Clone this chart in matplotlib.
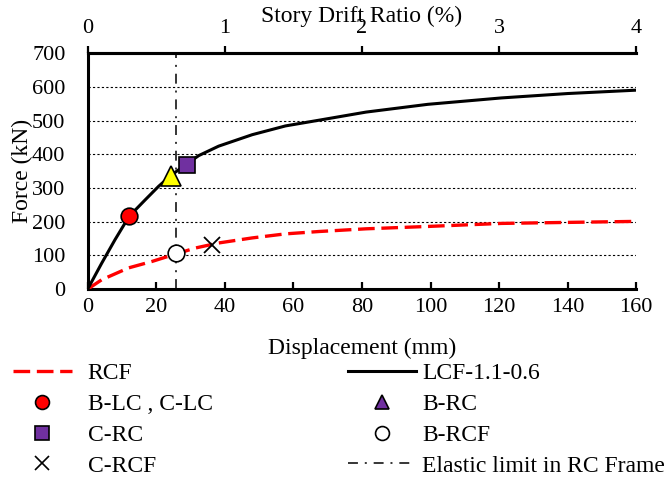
import numpy as np
import matplotlib.pyplot as plt
from matplotlib.lines import Line2D

plt.rcParams['font.family'] = ['Liberation Serif', 'DejaVu Serif']
plt.rcParams['font.size'] = 17

# ---- data ----
lcf_x = [0, 4.1, 8.0, 12.1, 16.8, 20.7, 24.3, 28.0, 32.4, 38.2, 48.0, 57.7,
         67.5, 81.2, 99.2, 120.7, 140, 160]
lcf_y = [0, 77, 147, 216, 265, 305, 337, 365, 396, 424, 458, 484,
         501, 525, 548, 567, 580, 590]

rcf_x = [0, 4.1, 11.9, 18.7, 25.9, 31.4, 38.2, 48.0, 57.7, 67.5, 81.2, 99.2,
         120.7, 140, 160]
rcf_y = [0, 28, 63, 82, 105, 122, 137, 152, 164, 171, 179, 186,
         195, 198, 201]

pt_blc = (12.1, 216)
pt_brc = (24.3, 337)
pt_crc = (29.1, 369)
pt_brcf = (25.9, 107)
pt_crcf = (36.3, 132)
elastic_x = 25.9

drift_ticks = [0, 1, 2, 3, 4]

red_dash = (5, 2)
dash_dot = (6.5, 4.5, 1.3, 4.5)
purple = '#7030a0'

fig = plt.figure(figsize=(6.69, 4.78), dpi=100)
ax = fig.add_axes([0.131, 0.395, 0.820, 0.494])

ax.plot(rcf_x, rcf_y, color='red', lw=2.4, dashes=red_dash, zorder=3)
ax.plot(lcf_x, lcf_y, color='black', lw=2.2, zorder=3)
ax.axvline(elastic_x, color='black', lw=1.1, dashes=dash_dot, zorder=2)

ax.plot(*pt_blc, marker='o', ms=12, mfc='red', mec='black', mew=1.2, zorder=5)
ax.plot(*pt_brc, marker='^', ms=14, mfc='yellow', mec='black', mew=1.2, zorder=5)
ax.plot(*pt_crc, marker='s', ms=12, mfc=purple, mec='black', mew=1.2, zorder=5)
ax.plot(*pt_brcf, marker='o', ms=12, mfc='white', mec='black', mew=1.2, zorder=5)
ax.plot(*pt_crcf, marker='x', ms=12, color='black', mew=1.3, zorder=5)

ax.set_xlim(0, 160)
ax.set_ylim(0, 700)
ax.set_xticks(np.arange(0, 161, 20))
ax.set_yticks(np.arange(0, 701, 100))
ax.yaxis.grid(True, color='black', ls=(0, (2, 2)), lw=0.8)
ax.set_axisbelow(True)
ax.tick_params(axis='x', direction='in', length=5, width=1.6, pad=6, labelsize=16)
ax.tick_params(axis='y', length=0, pad=16, labelsize=16)
ax.spines['right'].set_visible(False)
for s in ['left', 'bottom', 'top']:
    ax.spines[s].set_linewidth(2.2)
ax.set_xlabel('Displacement (mm)')
ax.xaxis.set_label_coords(0.5, -0.207)
ax.set_ylabel('Force (kN)')
ax.yaxis.set_label_coords(-0.099, 0.5)

ax2 = ax.twiny()
ax2.set_xlim(0, 4)
ax2.set_xticks(drift_ticks)
ax2.tick_params(axis='x', direction='out', length=5, width=1.6, pad=6, labelsize=16)
ax2.spines['right'].set_visible(False)
ax2.spines['top'].set_linewidth(2.2)
ax2.set_xlabel('Story Drift Ratio (%)')
ax2.xaxis.label.set_va('center')
ax2.xaxis.set_label_coords(0.5, 1.157)

h_left = [
    Line2D([], [], color='red', lw=2.4, dashes=red_dash),
    Line2D([], [], ls='none', marker='o', ms=10, mfc='red', mec='black', mew=1.2),
    Line2D([], [], ls='none', marker='s', ms=10, mfc=purple, mec='black', mew=1.2),
    Line2D([], [], ls='none', marker='x', ms=10, color='black', mew=1.2),
]
l_left = ['RCF', 'B-LC , C-LC', 'C-RC', 'C-RCF']
h_right = [
    Line2D([], [], color='black', lw=2.2),
    Line2D([], [], ls='none', marker='^', ms=10, mfc=purple, mec='black', mew=1.2),
    Line2D([], [], ls='none', marker='o', ms=10, mfc='white', mec='black', mew=1.2),
    Line2D([], [], color='black', lw=1.1, dashes=dash_dot),
]
l_right = ['LCF-1.1-0.6', 'B-RC', 'B-RCF', 'Elastic limit in RC Frame']

leg1 = fig.legend(h_left, l_left, loc='upper left', bbox_to_anchor=(0.019, 0.241),
                  frameon=False, handlelength=2.5, handletextpad=0.68,
                  labelspacing=0.39, borderaxespad=0, borderpad=0)
leg2 = fig.legend(h_right, l_right, loc='upper left', bbox_to_anchor=(0.520, 0.241),
                  frameon=False, handlelength=2.9, handletextpad=0.25,
                  labelspacing=0.39, borderaxespad=0, borderpad=0)

fig.savefig('out.png', dpi=100)
